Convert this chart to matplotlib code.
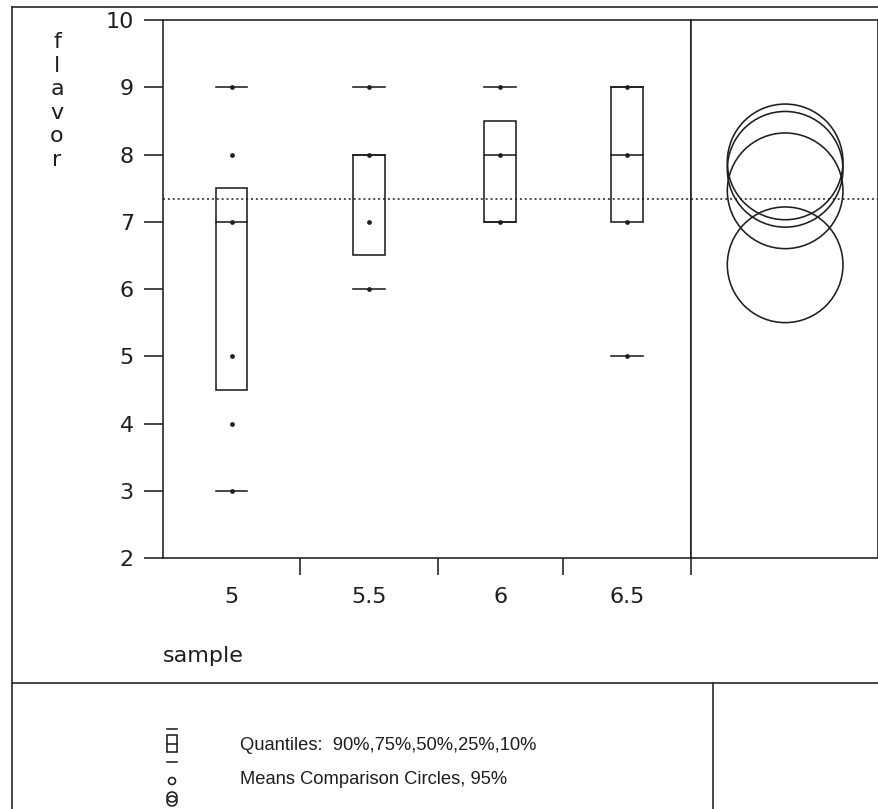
import matplotlib
matplotlib.use("Agg")
import matplotlib.pyplot as plt
from matplotlib.patches import Circle, Rectangle

plt.rcParams['font.family'] = ['DejaVu Sans']

# data
samples = ['5', '5.5', '6', '6.5']
q90 = [9, 9, 9, 9]
q75 = [7.5, 8, 8.5, 9]
q50 = [7, 8, 8, 8]
q25 = [4.5, 6.5, 7, 7]
q10 = [3, 6, 7, 5]
points = [[9, 8, 7, 5, 4, 3], [9, 8, 7, 6], [9, 8, 7], [9, 8, 7, 5]]
means = [6.36, 7.46, 7.89, 7.78]
circle_r = [0.86, 0.86, 0.86, 0.86]
grand_mean = 7.34

# group edges along x (JMP draws widths by group size)
edges = [0, 1.04, 2.08, 3.03, 4]
centers = [(edges[i] + edges[i + 1]) / 2 for i in range(4)]
hw = 0.12
ink = '#1e1e1e'
lw = 1.15
W, H = 879, 809

fig = plt.figure(figsize=(W / 100, H / 100), dpi=100)
fig.patch.set_facecolor('white')

def fbox(x0, y0, x1, y1):
    return [x0 / W, 1 - y1 / H, (x1 - x0) / W, (y1 - y0) / H]

ax = fig.add_axes(fbox(163, 20, 691, 558))
ax2 = fig.add_axes(fbox(691, 20, 878, 558))

for i, c in enumerate(centers):
    ax.add_patch(Rectangle((c - hw, q25[i]), 2 * hw, q75[i] - q25[i],
                           fill=False, ec=ink, lw=lw, zorder=3))
    for q in (q90[i], q50[i], q10[i]):
        ax.plot([c - hw, c + hw], [q, q], color=ink, lw=lw, zorder=3)
    ax.plot([c] * len(points[i]), points[i], 'o', ms=2.4, color=ink, zorder=4)

dots = (0, (1.3, 1.9))
ax.axhline(grand_mean, color=ink, lw=1.1, ls=dots, zorder=2)
ax.set_xlim(edges[0], edges[-1])
ax.set_ylim(2, 10)
ax.set_yticks(range(2, 11))
ax.set_xticks(centers)
ax.set_xticklabels(samples)
ax.set_xticks(edges[1:], minor=True)
ax.tick_params(axis='y', direction='out', length=14, width=lw, color=ink,
               labelsize=16, pad=7, labelcolor=ink)
ax.tick_params(axis='x', which='major', length=0, pad=21, labelsize=16,
               labelcolor=ink)
ax.tick_params(axis='x', which='minor', direction='out', length=12, width=lw,
               color=ink)
for s in ax.spines.values():
    s.set_color(ink)
    s.set_linewidth(lw)

# means comparison circles panel
for m, r in zip(means, circle_r):
    ax2.add_patch(Circle((1.40, m), r, fill=False, ec=ink, lw=lw))
ax2.axhline(grand_mean, color=ink, lw=1.1, ls=dots)
ax2.set_xlim(0, 187 / 67.25)
ax2.set_ylim(2, 10)
ax2.set_xticks([])
ax2.set_yticks([])
for s in ax2.spines.values():
    s.set_color(ink)
    s.set_linewidth(lw)

# overlay for frame, labels and legend in pixel units
ov = fig.add_axes([0, 0, 1, 1], zorder=-1)
ov.set_xlim(0, W)
ov.set_ylim(H, 0)
ov.axis('off')
ov.plot([12, 12], [7, H], color=ink, lw=lw)
ov.plot([12, W], [7, 7], color=ink, lw=lw)
ov.plot([12, W], [683, 683], color=ink, lw=lw)
ov.plot([713, 713], [683, H], color=ink, lw=lw)

for k, ch in enumerate('flavor'):
    ov.text(57, 42 + k * 23.5, ch, ha='center', va='center', fontsize=16,
            color=ink)
ov.text(163, 656, 'sample', ha='left', va='center', fontsize=16, color=ink)

# legend glyphs
gx = 172
ov.plot([gx - 5, gx + 5], [729, 729], color=ink, lw=lw)
ov.add_patch(Rectangle((gx - 5, 735), 10, 17, fill=False, ec=ink, lw=lw))
ov.plot([gx - 5, gx + 5], [744, 744], color=ink, lw=lw)
ov.plot([gx - 5, gx + 5], [762, 762], color=ink, lw=lw)
ov.add_patch(Circle((gx, 781), 3.5, fill=False, ec=ink, lw=lw))
ov.add_patch(Circle((gx, 797), 5, fill=False, ec=ink, lw=lw))
ov.add_patch(Circle((gx, 801), 5, fill=False, ec=ink, lw=lw))
legfont = ['Liberation Sans']
ov.text(240, 746, 'Quantiles:  90%,75%,50%,25%,10%', ha='left', va='center',
        fontsize=13.2, color=ink, family=legfont)
ov.text(240, 780, 'Means Comparison Circles, 95%', ha='left', va='center',
        fontsize=13.2, color=ink, family=legfont)

fig.savefig('out.png', dpi=100, facecolor='white')
